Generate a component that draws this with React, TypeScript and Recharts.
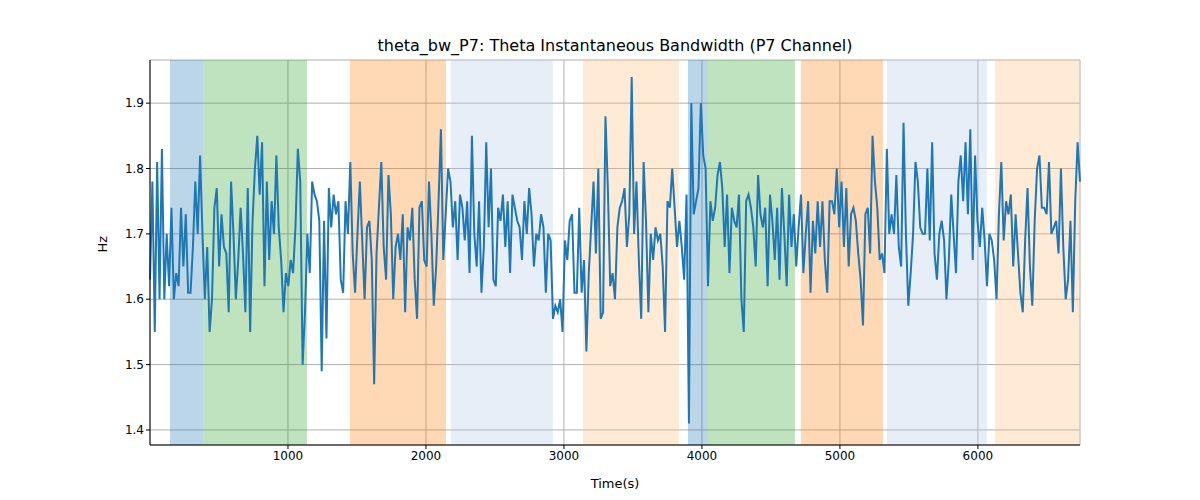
import { CartesianGrid, Line, LineChart, ReferenceArea, XAxis, YAxis } from 'recharts'

// theta_bw_P7 instantaneous bandwidth (Hz)
const BANDWIDTH = [
  1.63, 1.78, 1.55, 1.81, 1.60, 1.83, 1.60, 1.70, 1.62, 1.74, 1.60, 1.64, 1.62, 1.74, 1.65, 1.73, 1.61, 1.61, 1.68, 1.78,
  1.70, 1.82, 1.70, 1.60, 1.68, 1.55, 1.60, 1.74, 1.77, 1.65, 1.73, 1.68, 1.67, 1.58, 1.78, 1.70, 1.60, 1.66, 1.74, 1.67,
  1.58, 1.77, 1.55, 1.72, 1.80, 1.85, 1.76, 1.84, 1.62, 1.78, 1.66, 1.75, 1.70, 1.82, 1.71, 1.66, 1.58, 1.64, 1.62, 1.66,
  1.64, 1.71, 1.83, 1.78, 1.50, 1.58, 1.70, 1.64, 1.78, 1.76, 1.75, 1.72, 1.49, 1.72, 1.54, 1.77, 1.71, 1.76, 1.73, 1.75,
  1.63, 1.61, 1.75, 1.70, 1.81, 1.67, 1.61, 1.70, 1.78, 1.69, 1.60, 1.71, 1.72, 1.66, 1.47, 1.67, 1.74, 1.81, 1.68, 1.63,
  1.79, 1.73, 1.60, 1.68, 1.70, 1.66, 1.73, 1.58, 1.71, 1.69, 1.74, 1.63, 1.57, 1.74, 1.75, 1.66, 1.65, 1.78, 1.70, 1.59,
  1.65, 1.75, 1.86, 1.66, 1.73, 1.80, 1.78, 1.71, 1.75, 1.66, 1.76, 1.74, 1.69, 1.75, 1.64, 1.85, 1.70, 1.65, 1.75, 1.61,
  1.68, 1.84, 1.71, 1.80, 1.63, 1.62, 1.74, 1.72, 1.76, 1.68,
  1.75, 1.64, 1.76, 1.74, 1.72, 1.71, 1.66, 1.75, 1.70, 1.77, 1.73, 1.65, 1.70, 1.69, 1.73, 1.71, 1.61, 1.70, 1.69, 1.57,
  1.59, 1.58, 1.60, 1.55, 1.69, 1.66, 1.72, 1.73, 1.61, 1.61, 1.74, 1.61, 1.66, 1.52, 1.64, 1.71, 1.78, 1.67, 1.80, 1.57,
  1.58, 1.88, 1.77, 1.62, 1.64, 1.60, 1.71, 1.74, 1.75, 1.77, 1.68, 1.73,
  1.94, 1.70, 1.78, 1.66, 1.57, 1.81, 1.72, 1.58, 1.70, 1.66, 1.71, 1.69, 1.70, 1.65, 1.55, 1.75, 1.74, 1.80, 1.74, 1.68,
  1.72, 1.68, 1.63, 1.76, 1.41, 1.90, 1.73, 1.75, 1.77, 1.90, 1.82, 1.80, 1.62, 1.75, 1.72, 1.74, 1.79, 1.81, 1.77, 1.68,
  1.76, 1.64, 1.74, 1.72, 1.71, 1.76, 1.60, 1.55, 1.75, 1.76, 1.74, 1.71, 1.65, 1.79, 1.73, 1.71, 1.74, 1.62, 1.76, 1.72,
  1.66, 1.74, 1.63, 1.77, 1.70, 1.62, 1.76, 1.68, 1.73, 1.65, 1.71, 1.76, 1.64, 1.70, 1.75, 1.61, 1.72, 1.67,
  1.75, 1.68, 1.75, 1.66, 1.61, 1.75, 1.75, 1.73, 1.80, 1.71, 1.78, 1.68, 1.77, 1.65, 1.73, 1.74, 1.72, 1.67, 1.63, 1.56,
  1.73, 1.74, 1.67, 1.85, 1.78, 1.74, 1.66, 1.67, 1.64, 1.83, 1.70, 1.73, 1.70, 1.79, 1.68, 1.65, 1.87, 1.70, 1.59, 1.64,
  1.70, 1.81, 1.78, 1.71, 1.70, 1.70, 1.80, 1.69, 1.84, 1.67, 1.63, 1.70, 1.72, 1.69, 1.60, 1.66, 1.76, 1.70, 1.64, 1.78,
  1.82, 1.75, 1.84, 1.73, 1.86, 1.66, 1.82, 1.72, 1.68, 1.74, 1.69, 1.62, 1.70, 1.69, 1.66, 1.60, 1.73, 1.81, 1.69, 1.75,
  1.73, 1.76, 1.65, 1.73, 1.67, 1.61, 1.58, 1.69, 1.77, 1.65, 1.59, 1.72, 1.80, 1.82, 1.74, 1.74, 1.73, 1.81, 1.70, 1.71,
  1.72, 1.67, 1.80, 1.68, 1.60, 1.63, 1.72, 1.58, 1.75, 1.84, 1.78,
]
const T_END = 6740
const STEP = T_END / (BANDWIDTH.length - 1)

// shaded segments: [start, end, colour, opacity]
const SPANS: [number, number, string, number][] = [
  [145, 384, '#1f77b4', 0.3],
  [384, 1138, '#2ca02c', 0.3],
  [1449, 2145, '#ff7f0e', 0.3],
  [2181, 2920, '#aec7e8', 0.3],
  [3138, 3833, '#ffbb78', 0.3],
  [3899, 4043, '#1f77b4', 0.3],
  [4043, 4674, '#2ca02c', 0.3],
  [4717, 5312, '#ff7f0e', 0.3],
  [5341, 6065, '#aec7e8', 0.3],
  [6123, 6740, '#ffbb78', 0.3],
]

const X_TICKS = [1000, 2000, 3000, 4000, 5000, 6000]
const Y_TICKS = [1.4, 1.5, 1.6, 1.7, 1.8, 1.9]

const data = BANDWIDTH.map((v, i) => ({ t: i * STEP, v }))

export default function App() {
  return (
    <div style={{ width: 1200, height: 500, position: 'relative', fontFamily: 'DejaVu Sans', margin: -8 }}>
      <div style={{ position: 'absolute', top: 36, width: 1230, textAlign: 'center', fontSize: 16, color: '#000' }}>
        theta_bw_P7: Theta Instantaneous Bandwidth (P7 Channel)
      </div>
      <LineChart width={1200} height={500} data={data} margin={{ top: 60, right: 120, bottom: 10, left: 90 }}>
        {SPANS.map(([a, b, c, o], i) => (
          <ReferenceArea key={i} x1={a} x2={b} fill={c} fillOpacity={o} stroke="none" ifOverflow="hidden" />
        ))}
        <CartesianGrid stroke="#b0b0b0" strokeWidth={1} />
        <XAxis
          dataKey="t"
          type="number"
          domain={[0, T_END]}
          ticks={X_TICKS}
          tick={{ fill: '#000', fontSize: 12 }}
          tickSize={4}
          stroke="#000"
          label={{ value: 'Time(s)', position: 'insideBottom', offset: 2, fill: '#000', fontSize: 13 }}
          height={45}
        />
        <YAxis
          type="number"
          domain={[1.377, 1.966]}
          ticks={Y_TICKS}
          tickFormatter={(v: number) => v.toFixed(1)}
          tick={{ fill: '#000', fontSize: 12 }}
          tickSize={4}
          stroke="#000"
          width={60}
          label={{ value: 'Hz', angle: -90, position: 'insideLeft', offset: 12, fill: '#000', fontSize: 13 }}
        />
        <Line dataKey="v" stroke="#1f77b4" strokeWidth={2} dot={false} isAnimationActive={false} />
      </LineChart>
    </div>
  )
}
